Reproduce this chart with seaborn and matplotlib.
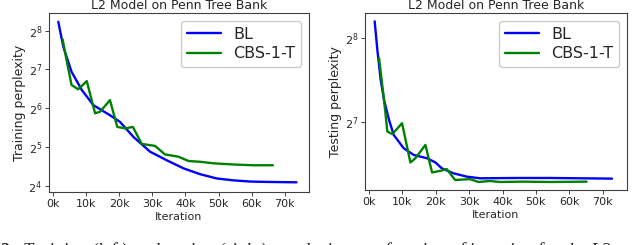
import math

import matplotlib
matplotlib.use("Agg")
import matplotlib.pyplot as plt
import pandas as pd
import seaborn as sns
from matplotlib.ticker import FixedLocator, FuncFormatter, NullLocator

# values (iteration in thousands, perplexity as log2)
train_bl_iter = [1.6, 3.1, 5.6, 8.7, 12.2, 17.2, 20.2, 24.3, 29.3, 34.3, 39.4, 44.4, 49.4, 54.5, 59.5, 64.6, 73.5]
train_bl_log2 = [8.23, 7.59, 6.94, 6.47, 6.08, 5.82, 5.65, 5.26, 4.88, 4.66, 4.45, 4.30, 4.19, 4.14, 4.11, 4.10, 4.09]
train_cbs_iter = [2.9, 4.1, 5.6, 7.6, 10.2, 12.7, 14.2, 17.2, 19.4, 21.8, 24.1, 26.8, 30.8, 33.8, 37.9, 40.9, 44.4, 48.4, 54.5, 60.5, 66.4]
train_cbs_log2 = [7.78, 7.24, 6.60, 6.49, 6.70, 5.87, 5.91, 6.21, 5.52, 5.48, 5.52, 5.08, 5.03, 4.81, 4.75, 4.64, 4.62, 4.58, 4.55, 4.53, 4.53]

test_bl_iter = [1.7, 2.5, 3.5, 4.5, 6.0, 7.4, 10.4, 13.4, 17.4, 19.9, 21.8, 25.3, 29.3, 33.3, 44.2, 54.1, 64.0, 72.8]
test_bl_log2 = [8.20, 7.86, 7.50, 7.26, 7.02, 6.84, 6.68, 6.60, 6.56, 6.51, 6.44, 6.38, 6.34, 6.32, 6.324, 6.324, 6.32, 6.316]
test_cbs_iter = [3.0, 4.5, 5.5, 7.0, 9.9, 12.4, 13.9, 16.9, 18.9, 21.4, 23.3, 25.8, 30.3, 32.8, 36.2, 39.2, 46.2, 54.1, 65.2]
test_cbs_log2 = [7.76, 7.26, 6.88, 6.85, 6.98, 6.51, 6.56, 6.72, 6.39, 6.41, 6.43, 6.30, 6.31, 6.276, 6.288, 6.276, 6.28, 6.276, 6.28]

series_names = ["BL", "CBS-1-T"]
colors = {"BL": "blue", "CBS-1-T": "green"}
caption = "Training (left) and testing (right) perplexity as a function of iteration for the L2 model"


def make_frame(bl_iter, bl_log2, cbs_iter, cbs_log2):
    rows = []
    for name, xs, ys in [("BL", bl_iter, bl_log2), ("CBS-1-T", cbs_iter, cbs_log2)]:
        for x, y in zip(xs, ys):
            rows.append({"iteration": x * 1000, "perplexity": 2 ** y, "model": name})
    return pd.DataFrame(rows)


def draw(ax, df, ylabel, ylim, yticks):
    sns.lineplot(data=df, x="iteration", y="perplexity", hue="model", hue_order=series_names,
                 palette=colors, linewidth=1.7, ax=ax, sort=False)
    ax.set_yscale("log", base=2)
    ax.set_ylim(*ylim)
    ax.set_xlim(-1200, 77300)
    ax.yaxis.set_major_locator(FixedLocator([2 ** k for k in yticks]))
    ax.yaxis.set_major_formatter(FuncFormatter(lambda v, p: r"$2^{%d}$" % round(math.log2(v))))
    ax.yaxis.set_minor_locator(NullLocator())
    ax.xaxis.set_major_locator(FixedLocator([i * 10000 for i in range(8)]))
    ax.xaxis.set_major_formatter(FuncFormatter(lambda v, p: f"{int(v / 1000)}k"))
    ax.tick_params(labelsize=8, length=3, width=0.6, pad=2)
    ax.set_xlabel("Iteration", fontsize=8, labelpad=2)
    ax.set_ylabel(ylabel, fontsize=9, labelpad=2)
    ax.set_title("L2 Model on Penn Tree Bank", fontsize=9, pad=3)
    for s in ax.spines.values():
        s.set_linewidth(0.8)
        s.set_color("0.25")
    ax.legend(title=None, fontsize=11.5, loc="upper right", handlelength=2.1,
              borderpad=0.35, labelspacing=0.3, handletextpad=0.8, framealpha=1)


def main():
    sns.set_style("ticks")
    plt.rcParams["font.family"] = ["DejaVu Sans"]

    fig = plt.figure(figsize=(6.4, 2.45), dpi=100)
    ax1 = fig.add_axes([0.0766, 0.2163, 0.4063, 0.7306])
    ax2 = fig.add_axes([0.5703, 0.2245, 0.4094, 0.7224])

    draw(ax1, make_frame(train_bl_iter, train_bl_log2, train_cbs_iter, train_cbs_log2),
         "Training perplexity", (2 ** 3.84, 2 ** 8.457), [4, 5, 6, 7, 8])
    draw(ax2, make_frame(test_bl_iter, test_bl_log2, test_cbs_iter, test_cbs_log2),
         "Testing perplexity", (2 ** 6.18, 2 ** 8.30), [7, 8])

    # figure caption, cut off at the bottom edge as in the source
    fig.text(0.0, -0.045, "2:", fontsize=13, fontweight="bold", family="Liberation Serif")
    fig.text(0.036, -0.045, caption, fontsize=13.3, style="italic", family="Liberation Serif")

    fig.savefig("out.png", dpi=100)
    plt.close(fig)


if __name__ == "__main__":
    main()
